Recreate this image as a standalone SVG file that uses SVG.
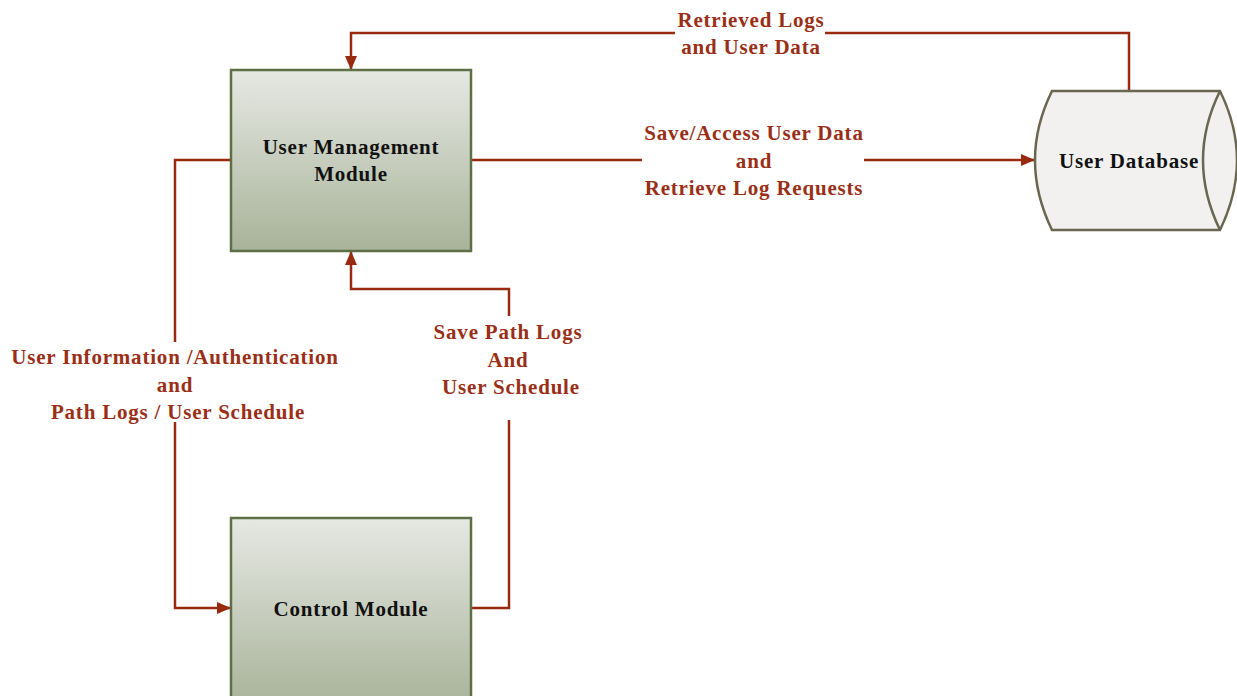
<svg xmlns="http://www.w3.org/2000/svg" width="1237" height="696" viewBox="0 0 1237 696">
<style>
.box{stroke:#5f6f45;stroke-width:2.5;fill:url(#g)}
.nt{font-family:"Liberation Serif",serif;font-weight:bold;font-size:21px;letter-spacing:0.8px;fill:#111;text-anchor:middle}
.lt{font-family:"Liberation Serif",serif;font-weight:bold;font-size:21px;letter-spacing:0.8px;fill:#9a2f17;text-anchor:middle}
.cn{fill:none;stroke:#982a10;stroke-width:2.5}
.bg{fill:#fff}
</style>
<defs>
<linearGradient id="g" x1="0" y1="0" x2="0" y2="1">
<stop offset="0" stop-color="#e6e8e3"/>
<stop offset="1" stop-color="#a8b399"/>
</linearGradient>
<marker id="a" markerWidth="14" markerHeight="14" refX="13" refY="6" orient="auto" markerUnits="userSpaceOnUse" viewBox="0 0 14 12">
<path d="M0,0 L14,6 L0,12 z" fill="#982a10"/>
</marker>
</defs>
<rect width="1237" height="696" fill="#fff"/>
<g id="connectors">
<path class="cn" d="M1129,91 V33 H351 V69" marker-end="url(#a)"/>
<path class="cn" d="M472,160 H1034" marker-end="url(#a)"/>
<path class="cn" d="M230,160 H175 V608 H230" marker-end="url(#a)"/>
<path class="cn" d="M472,608 H509 V289 H351 V252" marker-end="url(#a)"/>
<rect class="bg" x="675" y="4" width="150" height="56"/>
<text class="lt" x="751" y="27">Retrieved Logs</text>
<text class="lt" x="751" y="54">and User Data</text>
<rect class="bg" x="642" y="118" width="222" height="84"/>
<text class="lt" x="754" y="140">Save/Access User Data</text>
<text class="lt" x="754" y="168">and</text>
<text class="lt" x="754" y="195">Retrieve Log Requests</text>
<rect class="bg" x="10" y="342" width="332" height="80"/>
<text class="lt" x="175" y="364">User Information /Authentication</text>
<text class="lt" x="175" y="392">and</text>
<text class="lt" x="178" y="419">Path Logs / User Schedule</text>
<rect class="bg" x="430" y="316" width="158" height="104"/>
<text class="lt" x="508" y="339">Save Path Logs</text>
<text class="lt" x="508" y="367">And</text>
<text class="lt" x="511" y="394">User Schedule</text>
</g>
<g id="user-management">
<rect class="box" x="231" y="70" width="240" height="181"/>
<text class="nt" x="351" y="154">User Management</text>
<text class="nt" x="351" y="181">Module</text>
</g>
<g id="control-module">
<rect class="box" x="231" y="518" width="240" height="190"/>
<text class="nt" x="351" y="616">Control Module</text>
</g>
<g id="user-database">
<path d="M1052,91 H1220 Q1254,160 1220,230 H1052 Q1018,160 1052,91 z" fill="#f2f1ef" stroke="#6a6650" stroke-width="2.5"/>
<path d="M1220,91 Q1186,160 1220,230" fill="none" stroke="#6a6650" stroke-width="2.5"/>
<text class="nt" x="1129" y="168">User Database</text>
</g>
</svg>
